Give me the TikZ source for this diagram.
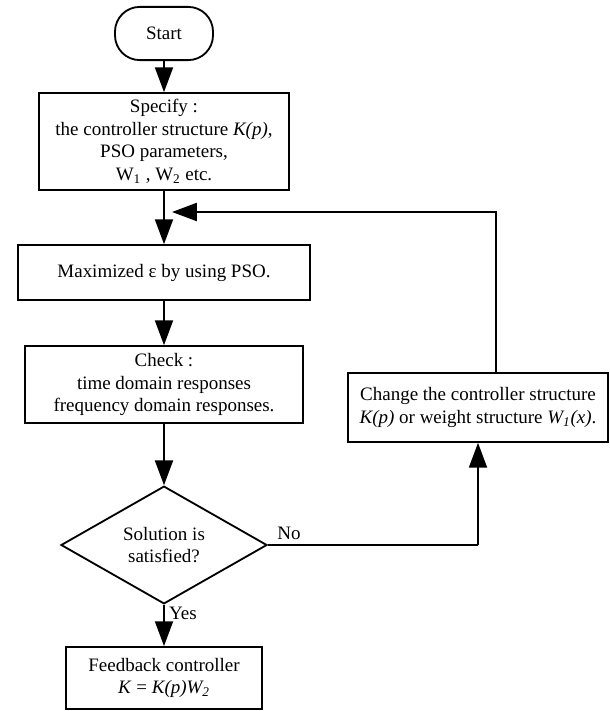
\documentclass[tikz,border=0pt]{standalone}
\usepackage{fontspec}
\setmainfont{Liberation Serif}
\usetikzlibrary{shapes.geometric,arrows.meta,calc}
\tikzset{
  flowbox/.style={draw, line width=1.3pt, align=center, inner sep=2pt},
  flowline/.style={line width=1.3pt},
  flowarrow/.style={line width=1.3pt, -{Triangle[length=0.62cm,width=0.45cm]}}
}
\begin{document}
\begin{tikzpicture}[x=0.025cm, y=-0.025cm, font=\fontsize{13.5}{16}\selectfont]
	\useasboundingbox (0,0) rectangle (610,711);
	\node[flowbox, rounded corners=0.62cm, minimum width=2.45cm, minimum height=1.33cm] (start) at (164,33.5) {Start};
	\node[flowbox, minimum width=6.25cm, minimum height=2.42cm] (spec) at (164,141.5) {Specify :\\the controller structure \textit{K(p)},\\PSO parameters,\\W\textsubscript{1} , W\textsubscript{2} etc.};
	\node[flowbox, minimum width=7.3cm, minimum height=1.37cm] (maxim) at (164,272.5) {Maximized ε by using PSO.};
	\node[flowbox, minimum width=6.95cm, minimum height=1.92cm] (check) at (164,384.5) {Check :\\time domain responses\\frequency domain responses.};
	\node[flowbox, diamond, inner sep=0pt, minimum width=5.15cm, minimum height=2.5cm] (decide) at (164,545) {Solution is\\satisfied?};
	\node[flowbox, minimum width=6.5cm, minimum height=1.72cm] (change) at (478,407.5) {Change the controller structure\\\textit{K(p)} or weight structure \textit{W\textsubscript{1}(x)}.};
	\node[flowbox, minimum width=4.9cm, minimum height=1.55cm] (result) at (164,678) {Feedback controller\\\textit{K} = \textit{K(p)W\textsubscript{2}}};
	\coordinate (loopin) at (172,212);
	\coordinate (corner) at (decide.east -| change.south);
	% main flow
	\draw[flowarrow] (start) -- (spec);
	\draw[flowarrow] (spec) -- (maxim);
	\draw[flowarrow] (maxim) -- (check);
	\draw[flowarrow] (check) -- (decide);
	\draw[flowarrow] (decide) -- node[right, inner sep=3pt, pos=0.22] {Yes} (result);
	% loop back
	\draw[flowline] (decide.east) -- node[above, pos=0.1] {No} (corner);
	\draw[flowarrow] (corner) -- (change.south);
	\draw[flowarrow] ($(change.north)+(18,0)$) |- (loopin);
\end{tikzpicture}
\end{document}
